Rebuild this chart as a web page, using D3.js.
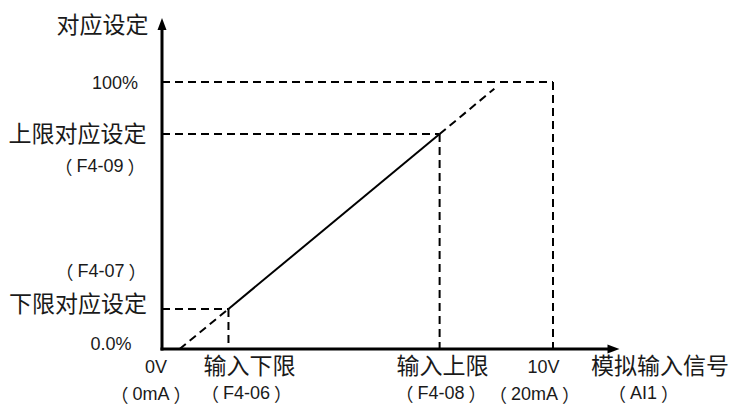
<!DOCTYPE html>
<html>
<head>
<meta charset="utf-8">
<script src="https://cdn.jsdelivr.net/npm/d3@7"></script>
<style>
  html, body { margin: 0; padding: 0; background: #fff; }
  svg { display: block; }
  .cjk { font-family: "Noto Sans CJK SC", "Noto Sans", sans-serif; font-size: 23px; fill: #1a1a1a; }
  .lat { font-family: "Liberation Sans", Arial, sans-serif; font-size: 18px; fill: #1a1a1a; }
  .par { font-family: "Noto Sans CJK SC", sans-serif; font-size: 18px; }
</style>
</head>
<body>
<svg id="chart" width="734" height="407"></svg>
<script>
// ---- data ----
const xDomain = [0, 10];          // 0V .. 10V
const yDomain = [0, 100];         // 0% .. 100%
const axisMax = [11.7, 124];      // axis arrow extents (x in V, y in %)
const lowerPoint = [1.7, 15];     // (F4-06, F4-07)
const upperPoint = [7.1, 80.5];   // (F4-08, F4-09)
const dashStart = [0.45, 0];
const dashEnd = [8.5, 97.5];
const fullScale = [10, 100];

const yLabels = ["对应设定", "100%", "上限对应设定", "（F4-09）", "（F4-07）", "下限对应设定", "0.0%"];
const xLabels = ["0V", "输入下限", "输入上限", "10V", "模拟输入信号"];
const xSubLabels = ["（0mA）", "（F4-06）", "（F4-08）", "（20mA）", "（AI1）"];

// ---- layout ----
const svg = d3.select("#chart");
const x = d3.scaleLinear().domain(xDomain).range([162, 553]);
const y = d3.scaleLinear().domain(yDomain).range([349, 82]);

const dash = "8,5";
const g = svg.append("g");

function seg(p, q, opts) {
  g.append("line")
    .attr("x1", x(p[0])).attr("y1", y(p[1]))
    .attr("x2", x(q[0])).attr("y2", y(q[1]))
    .attr("stroke", "#000")
    .attr("stroke-width", opts.w || 2)
    .attr("stroke-dasharray", opts.dash || null);
}

// guide dashed lines
seg([0, fullScale[1]], [fullScale[0], fullScale[1]], {dash});
seg([fullScale[0], fullScale[1]], [fullScale[0], 0], {dash});
seg([0, upperPoint[1]], upperPoint, {dash});
seg(upperPoint, [upperPoint[0], 0], {dash});
seg([0, lowerPoint[1]], lowerPoint, {dash});
seg(lowerPoint, [lowerPoint[0], 0], {dash});
// characteristic
seg(dashStart, lowerPoint, {dash});
seg(lowerPoint, upperPoint, {w: 2});
seg(upperPoint, dashEnd, {dash});

// axes
const x0 = x(0), y0 = y(0);
const xTip = x(axisMax[0]), yTip = y(axisMax[1]);
g.append("line").attr("x1", x0).attr("y1", y0 + 1.5).attr("x2", x0).attr("y2", yTip + 8)
  .attr("stroke", "#000").attr("stroke-width", 3);
g.append("line").attr("x1", x0 - 1.5).attr("y1", y0).attr("x2", xTip - 8).attr("y2", y0)
  .attr("stroke", "#000").attr("stroke-width", 3);
g.append("path").attr("d", `M${x0},${yTip} L${x0 - 4.5},${yTip + 12} L${x0 + 4.5},${yTip + 12} Z`).attr("fill", "#000");
g.append("path").attr("d", `M${xTip},${y0} L${xTip - 12},${y0 - 4.5} L${xTip - 12},${y0 + 4.5} Z`).attr("fill", "#000");

// text
function txt(s, cx, cy) {
  const isLatin = /^[0-9A-Za-z.%（）\-]+$/.test(s);
  const t = svg.append("text")
    .attr("class", isLatin ? "lat" : "cjk")
    .attr("x", cx).attr("y", cy)
    .attr("text-anchor", "middle")
    .attr("dominant-baseline", "central");
  if (isLatin && s.includes("（")) {
    s.split(/([（）])/).filter(p => p.length).forEach((p, k) => {
      const ts = t.append("tspan").attr("dominant-baseline", "central").text(p);
      if (p === "（" || p === "）") ts.attr("class", "par");
      if (k > 0) ts.attr("dx", 4);
    });
  } else {
    t.text(s);
  }
}
const yLabelPos = [[102.5, 22.5], [115, 83], [77.5, 132], [100, 166], [101, 271], [78, 302], [111, 344]];
yLabels.forEach((s, i) => txt(s, yLabelPos[i][0], yLabelPos[i][1]));
const xLabelPos = [[156, 367], [249.5, 364], [442.5, 364], [543.5, 367], [660, 364]];
xLabels.forEach((s, i) => txt(s, xLabelPos[i][0], xLabelPos[i][1]));
const xSubPos = [[151, 394], [246.5, 393], [441, 393], [534.5, 394], [643.5, 393]];
xSubLabels.forEach((s, i) => txt(s, xSubPos[i][0], xSubPos[i][1]));
</script>
</body>
</html>
